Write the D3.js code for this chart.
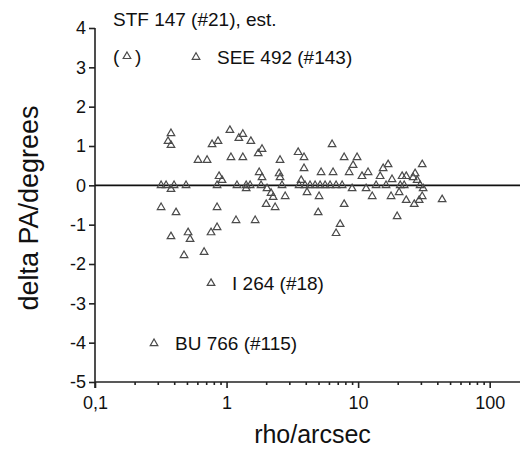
<!DOCTYPE html>
<html>
<head>
<meta charset="utf-8">
<script src="https://cdn.jsdelivr.net/npm/d3@7"></script>
<style>
  body { margin: 0; background: #fff; }
  text { font-family: "Liberation Sans", Arial, sans-serif; fill: #111; }
</style>
</head>
<body>
<div class="vis-scatter"></div>
<script>
// rho (arcsec) and delta PA (deg) for the plain points
const rho = [
  0.378, 0.359, 0.378, 0.318, 0.347, 0.399, 0.492, 0.378, 0.318, 0.413,
  0.378, 0.510, 0.528, 0.475, 0.675, 0.762, 0.847, 0.847, 1.18, 1.65,
  0.607, 0.711, 0.776, 0.861, 1.06, 1.33, 1.24, 1.53, 1.86, 1.74,
  1.08, 1.33, 2.55, 3.50, 3.88, 3.88, 0.877, 0.924, 0.847, 1.20,
  1.41, 1.41, 1.51, 1.77, 1.86, 1.83, 2.03, 2.18, 2.26, 2.00,
  2.34, 2.79, 2.51, 2.55, 2.64, 3.56, 3.69, 4.09,
  3.95, 4.31, 4.71, 5.14, 5.61, 6.12, 6.80, 7.56,
  5.23, 6.45, 5.05, 4.97, 6.34, 7.83, 9.82, 9.16, 8.55, 10.7,
  11.9, 9.0, 11.5, 12.8, 7.83, 7.30, 6.80, 15.5, 16.9, 14.7,
  18.1, 13.7, 16.3, 17.8, 20.5, 19.8, 21.6, 23.2, 23.2, 27.1,
  26.2, 30.7, 28.1, 29.6, 31.2, 30.7, 29.1, 26.7, 22.4, 20.9,
  43.5
];
const dPA = [
  1.32, 1.12, 1.02, 0, 0, 0, 0, -0.10, -0.56, -0.69,
  -1.30, -1.20, -1.37, -1.78, -1.70, -1.20, -1.07, -0.56, -0.89, -0.89,
  0.64, 0.64, 1.04, 1.12, 1.40, 1.30, 1.20, 1.12, 0.92, 0.81,
  0.71, 0.71, 0.64, 0.84, 0.71, 0.43, 0.23, 0.13, 0, 0,
  0, -0.08, 0, 0.33, 0.20, 0, -0.08, -0.20, -0.30, -0.48,
  -0.56, -0.28, 0.30, 0.20, 0, 0, 0.13, -0.18,
  0, 0, 0, 0, 0, 0, 0, 0,
  0.33, 0.33, -0.28, -0.69, 1.04, 0.71, 0.71, 0.51, 0.33, 0.23,
  0.33, -0.08, -0.08, -0.28, -0.48, -0.99, -1.22, 0.43, 0.53, 0.23,
  0.15, 0, 0, -0.28, -0.18, -0.79, 0.23, 0.23, -0.38, 0.30,
  0.20, 0.53, 0.13, 0, -0.08, -0.28, -0.38, -0.48, 0, 0,
  -0.36
];

// labelled outliers
const labelNames = ["SEE 492 (#143)", "I 264 (#18)", "BU 766 (#115)"];
const labelRho = [0.586, 0.762, 0.281];
const labelDpa = [3.26, -2.49, -4.02];

// STF 147, estimated (drawn in brackets)
const estRho = 0.175;
const estDpa = 3.28;
const estName = "STF 147 (#21), est.";

const yTicks = [-5, -4, -3, -2, -1, 0, 1, 2, 3, 4];
const xTicks = [0.1, 1, 10, 100];
const xTickLabels = ["0,1", "1", "10", "100"];

const width = 525, height = 450;
const margin = { left: 95, right: 5, top: 28, bottom: 68 };

const svg = d3.select(".vis-scatter")
  .append("svg")
  .attr("width", width)
  .attr("height", height);

const x = d3.scaleLog()
  .domain([0.1, 170])
  .range([margin.left, width - margin.right]);

const y = d3.scaleLinear()
  .domain([-5, 4])
  .range([height - margin.bottom, margin.top]);

// minor ticks 2..9 per decade
const minorTicks = [];
[0.1, 1, 10, 100].forEach(d => {
  for (let k = 2; k <= 9; k++) if (d * k <= 170) minorTicks.push(d * k);
});

svg.append("g")
  .attr("transform", `translate(0,${y(-5)})`)
  .call(d3.axisBottom(x).tickValues(minorTicks).tickSize(3).tickFormat(""))
  .call(g => g.select(".domain").remove())
  .call(g => g.selectAll("line").attr("stroke", "#222").attr("stroke-width", 1.2));

const xAxis = svg.append("g")
  .attr("transform", `translate(0,${y(-5)})`)
  .call(d3.axisBottom(x).tickValues(xTicks).tickSize(6).tickPadding(8)
    .tickFormat((d, i) => xTickLabels[i]))
  .call(g => g.select(".domain").attr("d", `M${x(0.1)},0H${width - margin.right}`));
xAxis.selectAll("text").style("font-size", "18px");

const yAxis = svg.append("g")
  .attr("transform", `translate(${x(0.1)},0)`)
  .call(d3.axisLeft(y).tickValues(yTicks).tickSize(6).tickPadding(3)
    .tickFormat(d => String(d)))
  .call(g => g.select(".domain").attr("d", `M0,${y(4)}V${y(-5) + 6}`));
yAxis.selectAll("text").style("font-size", "18px");

svg.selectAll(".domain, .tick line").attr("stroke", "#222").attr("stroke-width", 1.6);

// zero line
svg.append("line")
  .attr("x1", x(0.1)).attr("x2", width - margin.right)
  .attr("y1", y(0)).attr("y2", y(0))
  .attr("stroke", "#111")
  .attr("stroke-width", 1.8);

const tri = d3.symbol().type(d3.symbolTriangle).size(25);

const pts = rho.map((r, i) => ({ r, d: dPA[i] }))
  .concat(labelRho.map((r, i) => ({ r, d: labelDpa[i] })))
  .concat([{ r: estRho, d: estDpa }]);

svg.append("g")
  .selectAll("path")
  .data(pts)
  .join("path")
  .attr("d", tri)
  .attr("transform", p => `translate(${x(p.r)},${y(p.d)})`)
  .attr("fill", "none")
  .attr("stroke", "#4a4a4a")
  .attr("stroke-width", 1.2);

// labels for outliers
svg.append("g")
  .selectAll("text")
  .data(labelNames)
  .join("text")
  .attr("x", (d, i) => x(labelRho[i]) + 21)
  .attr("y", (d, i) => y(labelDpa[i]))
  .attr("dy", "0.35em")
  .style("font-size", "19px")
  .text(d => d);

svg.append("text")
  .attr("x", x(estRho) - 14)
  .attr("y", y(estDpa))
  .attr("dy", "0.35em")
  .style("font-size", "19px")
  .text("(");
svg.append("text")
  .attr("x", x(estRho) + 8)
  .attr("y", y(estDpa))
  .attr("dy", "0.35em")
  .style("font-size", "19px")
  .text(")");
svg.append("text")
  .attr("x", x(estRho) - 14)
  .attr("y", 26)
  .style("font-size", "19px")
  .text(estName);

// axis titles
svg.append("text")
  .attr("text-anchor", "middle")
  .attr("x", (x(0.1) + width - margin.right) / 2 + 5)
  .attr("y", 443)
  .style("font-size", "25px")
  .text("rho/arcsec");

svg.append("text")
  .attr("text-anchor", "middle")
  .attr("transform", `translate(38,${(y(4) + y(-5)) / 2 + 3}) rotate(-90)`)
  .style("font-size", "27px")
  .text("delta PA/degrees");
</script>
</body>
</html>
